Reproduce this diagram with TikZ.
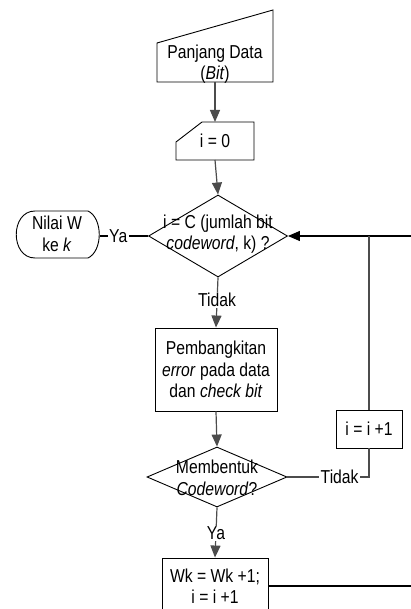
\documentclass[tikz,border=0pt]{standalone}
\usepackage{fontspec}
\setmainfont{Liberation Sans}
\usetikzlibrary{arrows.meta,shapes.geometric}
\begin{document}
\begin{tikzpicture}[x=1pt,y=-1pt,
  txt/.style={font=\fontsize{18.7}{21.5}\selectfont, align=center, inner sep=0pt, xscale=0.84, transform shape},
  shp/.style={draw=black, line width=0.9pt},
  conn/.style={draw=black!70, line width=1.2pt},
  arr/.style={conn, -{Triangle[width=10pt,length=12pt]}},
  lbl/.style={txt, fill=white, inner xsep=1.5pt, inner ysep=1pt},
  boxnode/.style={shp, rectangle, inner sep=0pt}]
\clip (0,0) rectangle (411,609);
% Manual input
\draw[shp] (157,43) -- (273,10) -- (273,82) -- (157,82) -- cycle;
\node[txt] (pd) at (215,64) {Panjang Data\\(\textit{Bit})};
\coordinate (pdb) at (215,82);
% i = 0 card
\draw[shp] (202,122) -- (254,122) -- (254,160) -- (176,160) -- (176,142) -- cycle;
\node[txt] (i0) at (215,141) {i = 0};
\coordinate (i0t) at (215,122);
\coordinate (i0b) at (215,160);
% Diamond 1
\node[shp, diamond, minimum width=139pt, minimum height=82pt, inner sep=0pt] (d1) at (218,236) {};
\node[txt] (d1t) at (218,234) {i = C (jumlah bit\\\textit{codeword}, k) ?};
% Terminal
\draw[shp] (35,211) -- (88,211) .. controls (103,218) and (103,251) .. (88,258) -- (35,258) .. controls (10,258) and (10,211) .. (35,211) -- cycle;
\node[txt] (nt) at (57,234) {Nilai W\\ke \textit{k}};
\coordinate (nte) at (100,236);
% Process box
\node[boxnode, minimum width=122pt, minimum height=83pt] (pb) at (216,369.5) {};
\node[txt] (pbt) at (pb.center) {Pembangkitan\\\textit{error} pada data\\dan \textit{check bit}};
% Diamond 2
\node[shp, diamond, minimum width=140pt, minimum height=60pt, inner sep=0pt] (d2) at (217,477) {};
\node[txt] (d2t) at (217,478) {Membentuk\\\textit{Codeword}?};
% i = i + 1
\node[boxnode, minimum width=66pt, minimum height=38pt] (inc) at (369,429) {};
\node[txt] (inct) at (inc.center) {i = i +1};
% Wk box
\node[boxnode, minimum width=106pt, minimum height=58pt] (wk) at (215,587) {};
\node[txt] (wkt) at (215,586) {Wk = Wk +1;\\i = i +1};
\coordinate (rin) at (411,236);
\coordinate (rout) at (411,586);
% connectors
\draw[arr] (pdb) -- (i0t);
\draw[arr] (i0b) -- (d1.north);
\draw[conn, draw=black] (d1.west) -- node[lbl, pos=0.62] {Ya} (nte);
\draw[arr, draw=black] (rin) -- (d1.east);
\draw[arr] (d1.south) -- node[lbl, pos=0.45] {Tidak} (pb.north);
\draw[arr] (pb.south) -- (d2.north);
\draw[conn] (d2.east) -| node[lbl, pos=0.32] {Tidak} (inc.south);
\draw[conn] (inc.north) -- (inc.north |- d1.east);
\draw[arr] (d2.south) -- node[lbl, pos=0.52] {Ya} (wk.north);
\draw[conn, draw=black] (wk.east |- rout) -- (rout);
\end{tikzpicture}
\end{document}
